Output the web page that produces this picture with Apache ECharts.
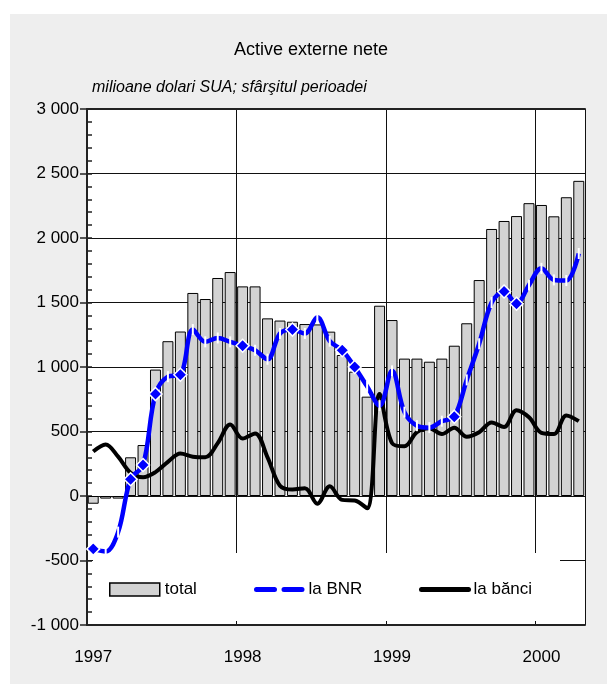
<!DOCTYPE html>
<html>
<head>
<meta charset="utf-8">
<script src="https://cdn.jsdelivr.net/npm/echarts@6/dist/echarts.min.js"></script>
<style>
html,body{margin:0;padding:0;background:#fff;}
#chart{width:607px;height:684px;}
</style>
</head>
<body>
<div id="chart"></div>
<script>
// ---- data (milioane dolari SUA, sfârşitul perioadei) ----
const months = [
  "1997-01","1997-02","1997-03","1997-04","1997-05","1997-06","1997-07","1997-08","1997-09","1997-10","1997-11","1997-12",
  "1998-01","1998-02","1998-03","1998-04","1998-05","1998-06","1998-07","1998-08","1998-09","1998-10","1998-11","1998-12",
  "1999-01","1999-02","1999-03","1999-04","1999-05","1999-06","1999-07","1999-08","1999-09","1999-10","1999-11","1999-12",
  "2000-01","2000-02","2000-03","2000-04"
];
const total = [
  -60, -20, -20, 300, 395, 980, 1200, 1275, 1574, 1527, 1690, 1736,
  1625, 1625, 1377, 1360, 1351, 1333, 1330, 1274, 1093, 964, 770, 1475,
  1364, 1065, 1065, 1041, 1065, 1165, 1339, 1674, 2070, 2132, 2170, 2270,
  2256, 2168, 2316, 2443
];
const laBNR = [
  -410, -430, -280, 130, 240, 790, 925, 940, 1290, 1195, 1225, 1195,
  1165, 1130, 1060, 1260, 1290, 1260, 1385, 1200, 1130, 1000, 850, 700,
  970, 650, 545, 530, 580, 615, 900, 1180, 1500, 1585, 1490, 1635,
  1765, 1675, 1670, 1880
];
const laBanci = [
  345, 400, 305, 180, 145, 185, 265, 330, 305, 300, 410, 555,
  445, 485, 300, 80, 50, 60, -60, 75, -30, -35, -95, 790,
  410, 385, 495, 525, 480, 530, 460, 495, 570, 535, 665, 610,
  490, 480, 625, 580
];
const bnrDiamondIdx = [0, 3, 4, 5, 7, 12, 16, 20, 21, 29, 33, 34];
const yearLabels = {"1997-01":"1997","1998-01":"1998","1999-01":"1999","2000-01":"2000"};

const FONT = "'Liberation Sans', Arial, Helvetica, sans-serif";
const fmt = v => String(v).replace(/\B(?=(\d{3})+(?!\d))/g, ' ');

const bnrData = laBNR.map((v, i) => bnrDiamondIdx.includes(i)
  ? {value: v, symbol: 'diamond', symbolSize: 13,
     itemStyle: {color: '#0000ff', borderColor: '#ffffff', borderWidth: 1.5}}
  : {value: v, symbol: 'rect', symbolSize: [2, 11],
     itemStyle: {color: '#ffffff', borderWidth: 0}});

const gridRect = {left: 87, right: 22, top: 109, bottom: 59};

const chart = echarts.init(document.getElementById('chart'), null, {renderer: 'canvas'});
chart.setOption({
  animation: false,
  textStyle: {fontFamily: FONT},
  graphic: [
    {type: 'rect', shape: {x: 10, y: 14, width: 597, height: 670}, style: {fill: '#eeeeee'}, z: -10, silent: true},
    {type: 'rect', shape: {x: 93, y: 553, width: 467, height: 68}, style: {fill: '#ffffff'}, z: 1, silent: true},
    {type: 'text', left: 92, top: 80, style: {text: 'milioane dolari SUA; sfârşitul perioadei',
      font: 'italic 16px ' + FONT, fill: '#000'}, z: 5}
  ],
  title: {text: 'Active externe nete', left: 229, top: 36,
    textStyle: {fontFamily: FONT, fontSize: 18, fontWeight: 'normal', color: '#000'}},
  grid: [
    Object.assign({show: true, backgroundColor: '#ffffff', borderWidth: 0}, gridRect),
    Object.assign({show: false}, gridRect)
  ],
  legend: [
    {left: 109, top: 581, padding: 0, itemWidth: 50, itemHeight: 13, selectedMode: false,
     textStyle: {fontFamily: FONT, fontSize: 17, color: '#000'},
     data: [{name: 'total', icon: 'rect', itemStyle: {color: '#d3d3d3', borderColor: '#000', borderWidth: 1.5}}]},
    {left: 254, top: 581, padding: 0, itemWidth: 47, itemHeight: 13, selectedMode: false,
     textStyle: {fontFamily: FONT, fontSize: 17, color: '#000'},
     data: [{name: 'la BNR', itemStyle: {opacity: 0},
             lineStyle: {color: '#0000ff', width: 5, type: [18, 9.5], cap: 'round'}}]},
    {left: 419, top: 581, padding: 0, itemWidth: 47, itemHeight: 13, selectedMode: false,
     textStyle: {fontFamily: FONT, fontSize: 17, color: '#000'},
     data: [{name: 'la bănci', itemStyle: {opacity: 0},
             lineStyle: {color: '#000', width: 5, type: 'solid', cap: 'round'}}]}
  ],
  xAxis: [
    {type: 'category', data: months, gridIndex: 0, boundaryGap: true,
     axisLine: {show: true, onZero: false, lineStyle: {color: '#222', width: 2}},
     axisTick: {show: false},
     axisLabel: {interval: 0, margin: 24, fontSize: 17, color: '#000', fontFamily: FONT,
       formatter: v => yearLabels[v] || ''},
     splitLine: {show: true, interval: (i) => i > 0 && i % 12 === 0,
       lineStyle: {color: '#111', width: 1}}},
    {type: 'value', gridIndex: 1, position: 'top', min: 0, max: 1,
     axisLine: {show: true, onZero: false, lineStyle: {color: '#222', width: 2}},
     axisTick: {show: false}, axisLabel: {show: false}, splitLine: {show: false}}
  ],
  yAxis: [
    {type: 'value', gridIndex: 0, min: -1000, max: 3000, interval: 500,
     axisLine: {show: true, lineStyle: {color: '#222', width: 2}},
     axisTick: {show: true, inside: false, length: 7, lineStyle: {color: '#222', width: 1.5}},
     axisLabel: {margin: 8, fontSize: 17, color: '#000', fontFamily: FONT, formatter: fmt},
     splitLine: {show: true, lineStyle: {color: '#111', width: 1}}},
    {type: 'value', gridIndex: 1, min: -1000, max: 3000, interval: 100, position: 'left',
     axisLine: {show: false},
     axisTick: {show: true, inside: true, length: 5, lineStyle: {color: '#222', width: 1.5}},
     axisLabel: {show: false}, splitLine: {show: false}}
  ],
  series: [
    {name: 'total', type: 'bar', data: total, xAxisIndex: 0, yAxisIndex: 0,
     barCategoryGap: '12%',
     itemStyle: {color: '#d3d3d3', borderColor: '#000', borderWidth: 1}, z: 2},
    {name: 'la bănci', type: 'line', data: laBanci, xAxisIndex: 0, yAxisIndex: 0,
     smooth: 0.35, showSymbol: false, symbol: 'none',
     lineStyle: {color: '#000', width: 4}, itemStyle: {color: '#000'}, z: 3},
    {name: 'la BNR', type: 'line', data: bnrData, xAxisIndex: 0, yAxisIndex: 0,
     smooth: 0.35, symbol: 'rect', showAllSymbol: true,
     lineStyle: {color: '#0000ff', width: 4.5}, itemStyle: {color: '#0000ff'}, z: 4}
  ]
});
</script>
</body>
</html>
